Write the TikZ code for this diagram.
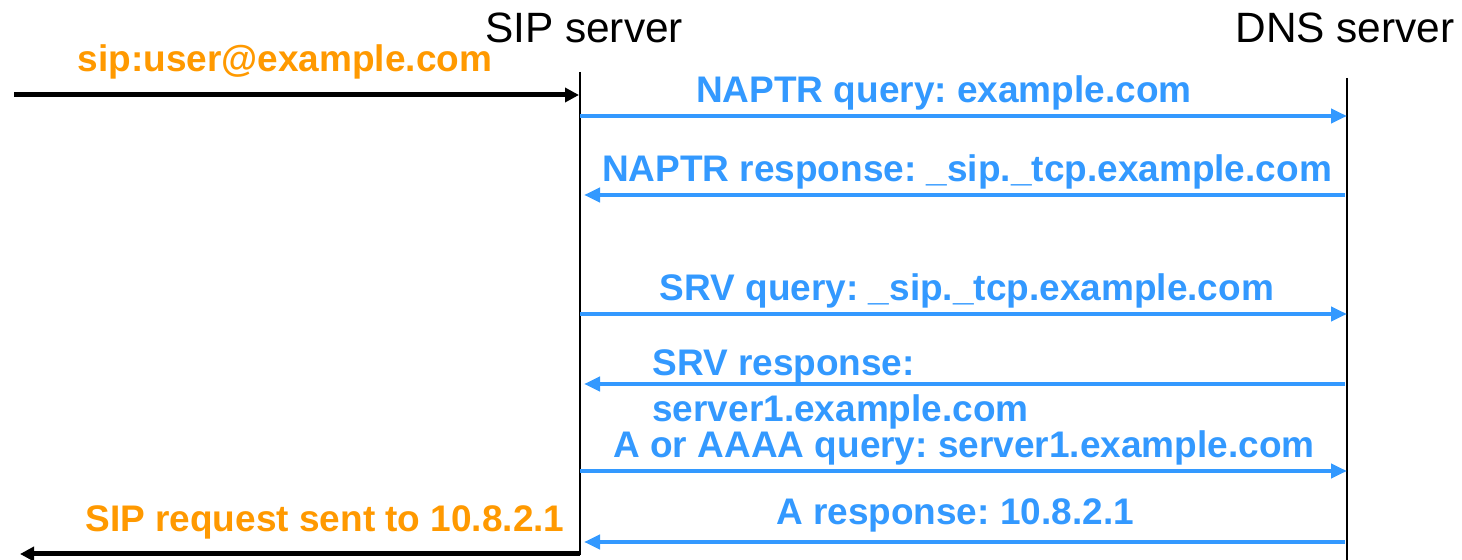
\documentclass[tikz,border=0pt]{standalone}
\usepackage{fontspec}
\setmainfont{Liberation Sans}
\usepackage{xcolor}
\definecolor{msgblue}{HTML}{3399FF}
\definecolor{sipor}{HTML}{FF9900}
\definecolor{ink}{HTML}{000000}
\usetikzlibrary{arrows.meta,positioning}
\frenchspacing

\begin{document}
\begin{tikzpicture}[x=0.5pt, y=-0.5pt,
	head/.style={anchor=base, font=\fontsize{21.2}{24}\selectfont, ink, inner sep=0pt},
	msg/.style={anchor=base, font=\bfseries\fontsize{18.5}{22}\selectfont, msgblue, inner sep=0pt},
	usr/.style={anchor=base, font=\bfseries\fontsize{18.5}{22}\selectfont, sipor, inner sep=0pt},
	life/.style={ink, line width=1pt},
	dnsmsg/.style={msgblue, line width=2pt, -{Triangle[length=8pt,width=7pt]}},
	usrmsg/.style={ink, line width=2.5pt, -{Triangle[length=7pt,width=7pt]}}
	]

	\useasboundingbox (0,0) rectangle (1462,560);

	% ================= Lifelines =================
	\node[head] (siphead) at (584,43) {SIP server};
	\node[head] (dnshead) at (1345,43) {DNS server};

	\coordinate (siptop) at (580,72);
	\coordinate (sipbot) at (580,555);
	\coordinate (dnstop) at (1347,78);
	\coordinate (dnsbot) at (1347,560);

	\draw[life] (siptop) -- (sipbot);
	\draw[life] (dnstop) -- (dnsbot);

	% ================= Request from the user =================
	\coordinate (uin)  at (14,95);
	\coordinate (sin)  at (579,95);
	\draw[usrmsg] (uin) -- (sin);
	\node[usr] (uri) at (285,72) {sip:user@example.com};

	% ================= DNS lookups =================
	\coordinate (s1) at (580,116);  \coordinate (d1) at (1347,116);
	\coordinate (s2) at (584,195);  \coordinate (d2) at (1345,195);
	\coordinate (s3) at (580,314);  \coordinate (d3) at (1347,314);
	\coordinate (s4) at (584,384);  \coordinate (d4) at (1345,384);
	\coordinate (s5) at (580,471);  \coordinate (d5) at (1347,471);
	\coordinate (s6) at (584,542);  \coordinate (d6) at (1345,542);

	\draw[dnsmsg] (s1) -- (d1);
	\node[msg] (naptrq) at (944,103) {NAPTR query: example.com};

	\draw[dnsmsg] (d2) -- (s2);
	\node[msg] (naptrr) at (967,182) {NAPTR response: \_sip.\_tcp.example.com};

	\draw[dnsmsg] (s3) -- (d3);
	\node[msg] (srvq) at (967,301) {SRV query: \_sip.\_tcp.example.com};

	\draw[dnsmsg] (d4) -- (s4);
	\node[msg, anchor=base west] (srvr) at (652,376) {SRV response:};
	\node[msg, anchor=base west] (srvrb) at (652,422) {server1.example.com};

	\draw[dnsmsg] (s5) -- (d5);
	\node[msg] (aq) at (964,458) {A or AAAA query: server1.example.com};

	\draw[dnsmsg] (d6) -- (s6);
	\node[msg] (ar) at (955,525) {A response: 10.8.2.1};

	% ================= Forwarded request =================
	\coordinate (sout) at (580,554);
	\coordinate (uout) at (20,554);
	\draw[usrmsg] (sout) -- (uout);
	\node[usr] (sent) at (325,532) {SIP request sent to 10.8.2.1};

\end{tikzpicture}
\end{document}
